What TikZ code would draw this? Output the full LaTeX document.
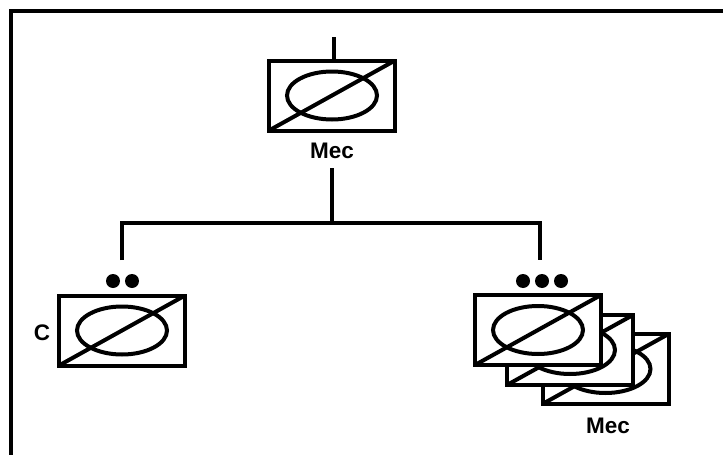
\documentclass[tikz,border=0pt]{standalone}
\usepackage{fontspec}
\setmainfont{Liberation Sans}
\begin{document}
\begin{tikzpicture}[x=1pt,y=-1pt,
  ln/.style={line width=4pt},
  mecbox/.style={draw,ln,fill=white,minimum width=126pt,minimum height=70pt,inner sep=0pt,outer sep=0pt,
    path picture={
      \draw[ln] (path picture bounding box.south west) -- (path picture bounding box.north east);
      \draw[ln] (path picture bounding box.center) ellipse (45pt and 24pt);
    }},
  dot/.style={circle,fill=black,minimum size=14pt,inner sep=0pt},
  lbl/.style={font=\fontsize{22.5}{22.5}\selectfont\bfseries,inner sep=0pt}
]
\useasboundingbox (0,0) rectangle (723,455);
\fill[white] (0,0) rectangle (723,455);
% frame
\coordinate (frTR) at (723,11);
\coordinate (frTL) at (11,11);
\coordinate (frBL) at (11,455);
\draw[ln] (frTR) -- (frTL) -- (frBL);

% top box
\node[mecbox] (top) at (332,95.5) {};
\node[lbl] (toplbl) at (332,150.5) {Mec};
\coordinate (topin) at (334,37);
\draw[ln] (topin) -- (topin |- top.north);

% tree connector
\coordinate (stemtop) at (332,168);
\coordinate (barmid) at (332,223);
\coordinate (barL) at (122,223);
\coordinate (barR) at (540,223);
\coordinate (dropL) at (122,260);
\coordinate (dropR) at (540,260);
\draw[ln] (stemtop) -- (barmid);
\draw[ln] (dropL) -- (barL) -- (barR) -- (dropR);

% left box
\node[dot] (l1) at (113,281) {};
\node[dot] (l2) at (132,281) {};
\node[mecbox] (left) at (122,330.5) {};
\node[lbl] (clbl) at (42,332.5) {C};

% right stack
\node[dot] (r1) at (523,281) {};
\node[dot] (r2) at (542,281) {};
\node[dot] (r3) at (561,281) {};
\node[mecbox] (right3) at (605.5,369) {};
\node[mecbox] (right2) at (570,350) {};
\node[mecbox] (right1) at (538,330) {};
\node[lbl] (rlbl) at (608,425.5) {Mec};
\end{tikzpicture}
\end{document}
